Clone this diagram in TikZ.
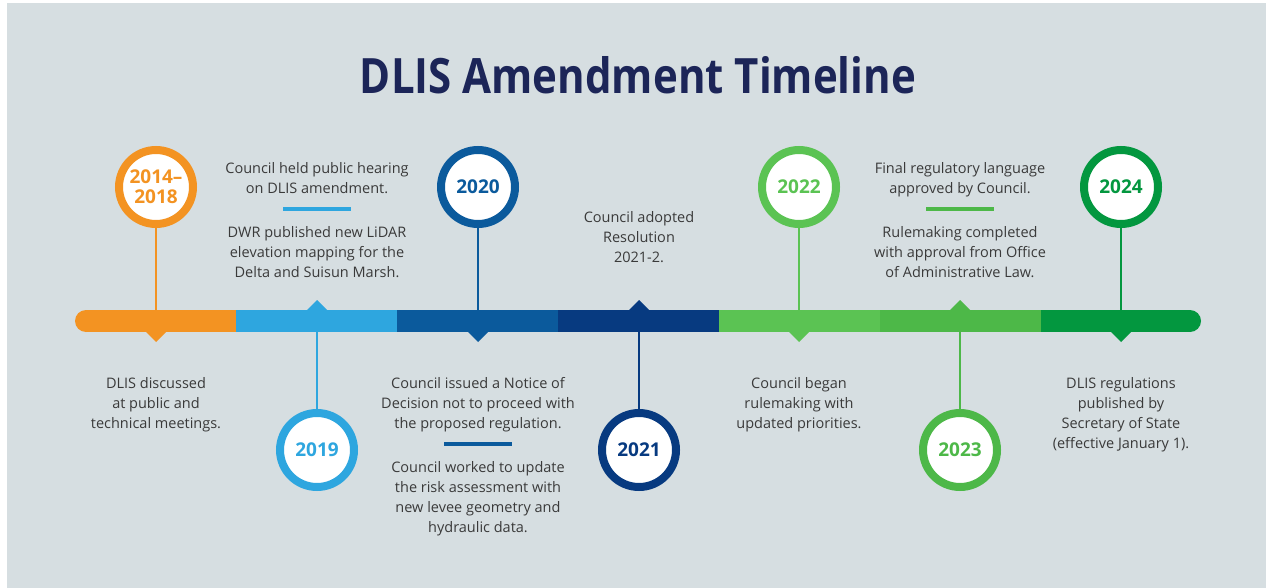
\documentclass[tikz,border=0pt]{standalone}
\usepackage{fontspec}
\setmainfont{Open Sans}
\usepackage{xcolor}
\usetikzlibrary{shadows}

\definecolor{cOrange}{HTML}{F39322}
\definecolor{cSky}{HTML}{2EA6DF}
\definecolor{cBlue}{HTML}{0B5A9C}
\definecolor{cNavy}{HTML}{073A80}
\definecolor{cLime}{HTML}{5BC353}
\definecolor{cGreen}{HTML}{4DB848}
\definecolor{cForest}{HTML}{03973F}
\definecolor{bgGray}{HTML}{D6DEE1}
\definecolor{titleNavy}{HTML}{1C2558}
\definecolor{txtGray}{HTML}{3A3A3A}

\begin{document}
\begin{tikzpicture}[x=1pt, y=-1pt,
  year/.style={circle, draw=#1, fill=white, line width=8pt, minimum size=74pt,
    inner sep=0pt, text=#1, align=center, font=\fontsize{19}{20}\selectfont\bfseries,
    drop shadow={shadow xshift=0pt, shadow yshift=-3pt, opacity=0.18}},
  stem/.style={draw=#1, line width=2.5pt},
  note/.style={anchor=north, align=center, inner sep=0pt, text=txtGray,
    font=\fontsize{14.5}{20}\selectfont},
  rule/.style={draw=#1, line width=4pt}
]
  \useasboundingbox (0,0) rectangle (1266,588);
  \fill[white] (0,0) rectangle (1266,588);
  \fill[bgGray] (7,3) rectangle (1266,588);

  \node[font=\fontsize{42}{48}\selectfont\bfseries, text=titleNavy, yscale=1.16, transform shape]
    (title) at (638,75) {DLIS Amendment Timeline};

  % bar
  \fill[cOrange] (86,310) rectangle (236,332);
  \fill[cOrange] (86,321) circle[radius=11];
  \fill[cSky] (236,310) rectangle (397,332);
  \fill[cBlue] (397,310) rectangle (558,332);
  \fill[cNavy] (558,310) rectangle (719,332);
  \fill[cLime] (719,310) rectangle (880,332);
  \fill[cGreen] (880,310) rectangle (1041,332);
  \fill[cForest] (1041,310) rectangle (1190,332);
  \fill[cForest] (1190,321) circle[radius=11];

  \fill[cOrange] (145,331) -- (167,331) -- (156,342) -- cycle;
  \fill[cSky] (306,311) -- (328,311) -- (317,300) -- cycle;
  \fill[cBlue] (467,331) -- (489,331) -- (478,342) -- cycle;
  \fill[cNavy] (628,311) -- (650,311) -- (639,300) -- cycle;
  \fill[cLime] (788,331) -- (810,331) -- (799,342) -- cycle;
  \fill[cGreen] (949,311) -- (971,311) -- (960,300) -- cycle;
  \fill[cForest] (1110,331) -- (1132,331) -- (1121,342) -- cycle;

  \coordinate (b1) at (156,321);
  \coordinate (b2) at (317,321);
  \coordinate (b3) at (478,321);
  \coordinate (b4) at (639,321);
  \coordinate (b5) at (799,321);
  \coordinate (b6) at (960,321);
  \coordinate (b7) at (1121,321);

  \draw[stem=cOrange] (156,187) -- (b1);
  \draw[stem=cSky] (317,450) -- (b2);
  \draw[stem=cBlue] (478,187) -- (b3);
  \draw[stem=cNavy] (639,450) -- (b4);
  \draw[stem=cLime] (799,187) -- (b5);
  \draw[stem=cGreen] (960,450) -- (b6);
  \draw[stem=cForest] (1121,187) -- (b7);

  \node[year=cOrange] (y1) at (156,187) {2014–\\2018};
  \node[year=cSky] (y2) at (317,450) {2019};
  \node[year=cBlue] (y3) at (478,187) {2020};
  \node[year=cNavy] (y4) at (639,450) {2021};
  \node[year=cLime] (y5) at (799,187) {2022};
  \node[year=cGreen] (y6) at (960,450) {2023};
  \node[year=cForest] (y7) at (1121,187) {2024};

  % texts
  \node[note] (t1) at (156,377) {DLIS discussed\\at public and\\technical meetings.};
  \node[note] (t2a) at (317,162) {Council held public hearing\\on DLIS amendment.};
  \draw[rule=cSky] (283,209) -- (351,209);
  \node[note] (t2b) at (317,226) {DWR published new LiDAR\\elevation mapping for the\\Delta and Suisun Marsh.};
  \node[note] (t3a) at (478,377) {Council issued a Notice of\\Decision not to proceed with\\the proposed regulation.};
  \draw[rule=cBlue] (444,444) -- (512,444);
  \node[note] (t3b) at (478,461) {Council worked to update\\the risk assessment with\\new levee geometry and\\hydraulic data.};
  \node[note] (t4) at (639,211) {Council adopted\\Resolution\\2021-2.};
  \node[note] (t5) at (799,377) {Council began\\rulemaking with\\updated priorities.};
  \node[note] (t6a) at (960,162) {Final regulatory language\\approved by Council.};
  \draw[rule=cGreen] (926,209) -- (994,209);
  \node[note] (t6b) at (960,226) {Rulemaking completed\\with approval from Office\\of Administrative Law.};
  \node[note] (t7) at (1121,377) {DLIS regulations\\published by\\Secretary of State\\(effective January 1).};
\end{tikzpicture}
\end{document}
